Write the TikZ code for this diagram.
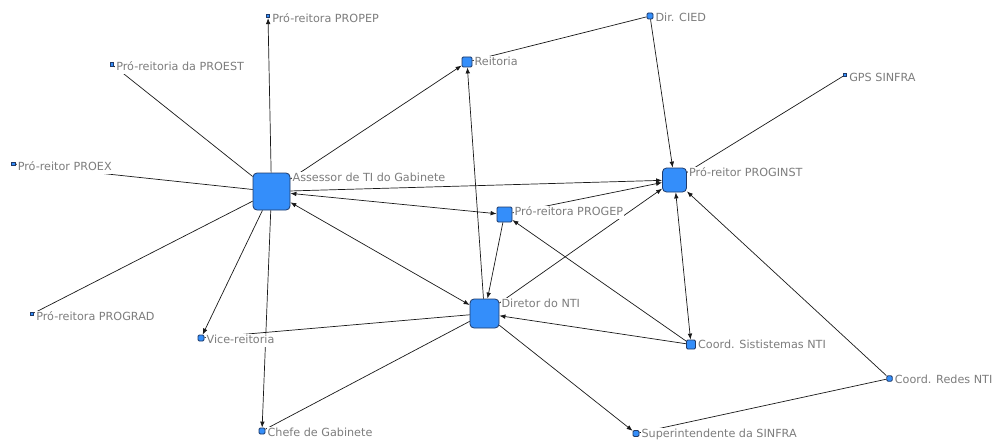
\documentclass[tikz,border=0pt]{standalone}
\usepackage{fontspec}
\setmainfont{DejaVu Sans}
\usetikzlibrary{positioning}
\usetikzlibrary{arrows.meta}
\definecolor{actorblue}{RGB}{52,142,250}
\definecolor{actorborder}{RGB}{32,58,104}
\definecolor{labelgray}{RGB}{125,125,125}
\definecolor{tiegray}{RGB}{25,25,25}
\tikzset{
        actor/.style={rectangle, draw=actorborder, fill=actorblue, line width=0.8pt, inner sep=0pt},
        % Large actors
        node_big/.style={actor, rounded corners=4pt},
        % Small actors
        node_small/.style={actor, rounded corners=1.2pt},
        % Isolated pro-reitorias (tiny marks)
        node_tiny/.style={actor, minimum size=3.5pt, line width=0.7pt},
        % Actor names
        node_label/.style={fill=white, inner sep=1pt, text=labelgray, text height=8.3pt, text depth=2.4pt,
                font=\fontsize{11.2}{13}\selectfont},
        % Ties
        tie/.style={draw=tiegray, line width=0.7pt},
        out_tie/.style={tie, -{Latex[length=6pt,width=4.6pt]}},
        both_tie/.style={tie, {Latex[length=6pt,width=4.6pt]}-{Latex[length=6pt,width=4.6pt]}}
}
\begin{document}
\begin{tikzpicture}[x=1pt, y=-1pt]
            \useasboundingbox (0,0) rectangle (995,441);
            % actors
            \node[node_big, minimum size=37pt] (ass) at (271.5,191.5) {};
            \node[node_big, minimum size=29pt] (dir) at (484.5,313.5) {};
            \node[node_big, minimum size=24pt] (proginst) at (674.5,180) {};
            \node[node_small, minimum size=15pt] (progep) at (504.5,214.5) {};
            \node[node_small, minimum size=10pt] (reit) at (467,62) {};
            \node[node_small, minimum size=9pt] (sist) at (691,344.5) {};
            \node[node_small, minimum size=6pt] (cied) at (650,16) {};
            \node[node_small, minimum size=5.5pt] (redes) at (889.5,378.5) {};
            \node[node_small, minimum size=6pt] (sinfra) at (636,433.5) {};
            \node[node_small, minimum size=6pt] (vice) at (201,338) {};
            \node[node_small, minimum size=6pt] (chefe) at (262,431) {};
            \node[node_tiny] (propep) at (268,16) {};
            \node[node_tiny] (proest) at (112,64.5) {};
            \node[node_tiny] (proex) at (13.5,164) {};
            \node[node_tiny] (prograd) at (32,314) {};
            \node[node_tiny] (gps) at (845,75) {};

            % ties
            \draw[out_tie] (ass) -- (propep);
            \draw[tie] (ass) -- (proest);
            \draw[tie] (ass) -- (proex);
            \draw[tie] (ass) -- (prograd);
            \draw[out_tie] (ass) -- (vice);
            \draw[out_tie] (ass) -- (chefe);
            \draw[out_tie] (ass) -- (reit);
            \draw[out_tie] (ass) -- (proginst);
            \draw[both_tie] (ass) -- (progep);
            \draw[both_tie] (ass) -- (dir);
            \draw[out_tie] (dir) -- (reit);
            \draw[out_tie] (progep) -- (dir);
            \draw[out_tie] (dir) -- (proginst);
            \draw[out_tie] (sist) -- (dir);
            \draw[out_tie] (sist) -- (progep);
            \draw[both_tie] (sist) -- (proginst);
            \draw[tie] (dir) -- (vice);
            \draw[tie] (dir) -- (chefe);
            \draw[out_tie] (dir) -- (sinfra);
            \draw[out_tie] (redes) -- (proginst);
            \draw[tie] (redes) -- (sinfra);
            \draw[tie] (gps) -- (proginst);
            \draw[tie] (reit) -- (cied);
            \draw[out_tie] (cied) -- (proginst);
            \draw[out_tie] (progep) -- (proginst);

            % names
            \node[node_label, below right=-1pt and 1pt of ass.north east] (l_ass) {Assessor de TI do Gabinete};
            \node[node_label, below right=-1pt and 1pt of dir.north east] (l_dir) {Diretor do NTI};
            \node[node_label, below right=-1pt and 1pt of proginst.north east] (l_proginst) {Pró-reitor PROGINST};
            \node[node_label, below right=-1pt and 1pt of progep.north east] (l_progep) {Pró-reitora PROGEP};
            \node[node_label, below right=-1pt and 1pt of reit.north east] (l_reit) {Reitoria};
            \node[node_label, below right=-1pt and 1pt of sist.north east] (l_sist) {Coord. Sististemas NTI};
            \node[node_label, below right=-1pt and 1pt of cied.north east] (l_cied) {Dir. CIED};
            \node[node_label, below right=-1pt and 1pt of redes.north east] (l_redes) {Coord. Redes NTI};
            \node[node_label, below right=-2pt and 1pt of sinfra.north east] (l_sinfra) {Superintendente da SINFRA};
            \node[node_label, below right=-1pt and 1pt of vice.north east] (l_vice) {Vice-reitoria};
            \node[node_label, below right=-1pt and 1pt of chefe.north east] (l_chefe) {Chefe de Gabinete};
            \node[node_label, below right=-1pt and 1pt of propep.north east] (l_propep) {Pró-reitora PROPEP};
            \node[node_label, below right=-1pt and 1pt of proest.north east] (l_proest) {Pró-reitoria da PROEST};
            \node[node_label, below right=-1pt and 1pt of proex.north east] (l_proex) {Pró-reitor PROEX};
            \node[node_label, below right=-1pt and 1pt of prograd.north east] (l_prograd) {Pró-reitora PROGRAD};
            \node[node_label, below right=-1pt and 1pt of gps.north east] (l_gps) {GPS SINFRA};
\end{tikzpicture}
\end{document}
